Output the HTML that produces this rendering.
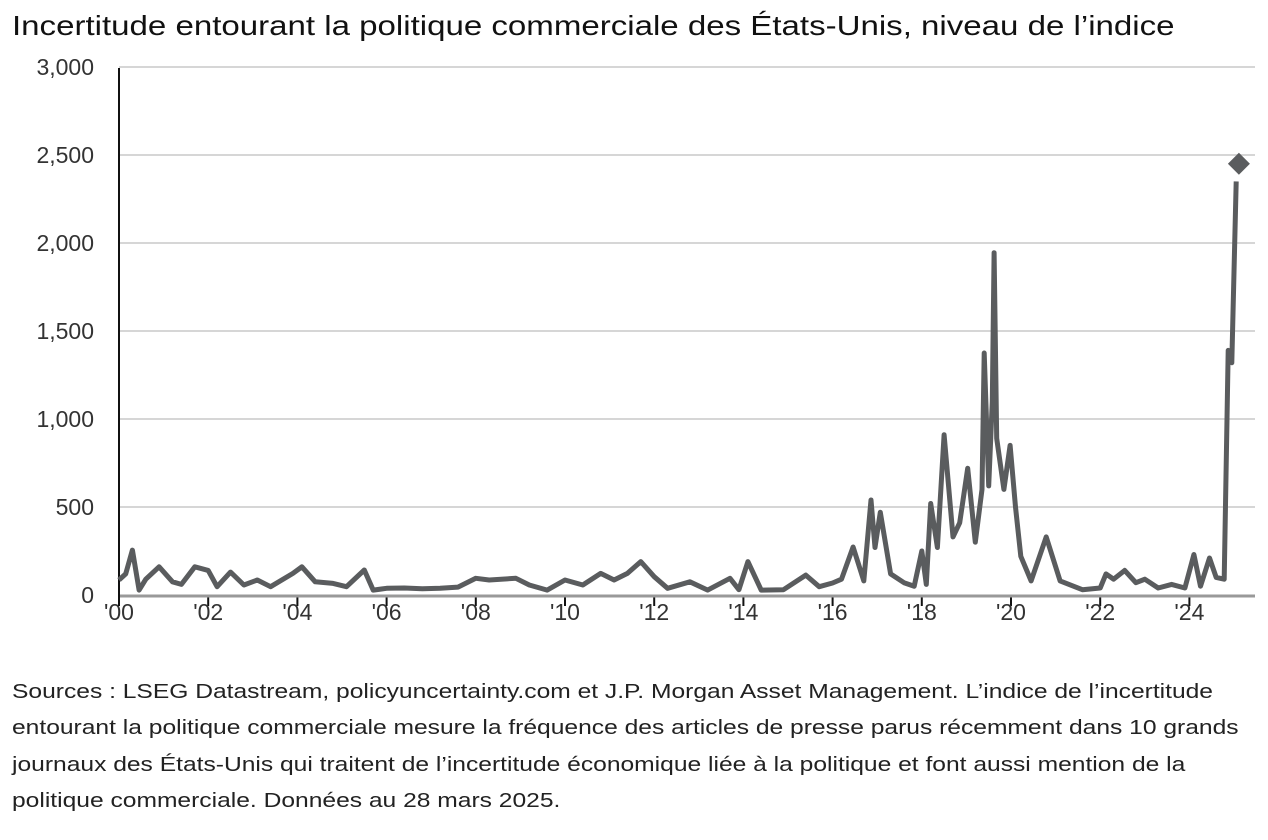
<!DOCTYPE html>
<html><head><meta charset="utf-8"><style>
body{margin:0;width:1268px;height:840px;background:#fff;font-family:"Liberation Sans",sans-serif;overflow:hidden}
#title{position:absolute;left:12px;top:10px;font-size:28px;color:#111;white-space:nowrap;transform:scaleX(1.18);transform-origin:0 0}
#note{position:absolute;left:12px;top:674px;font-size:20.5px;line-height:36.4px;color:#222;white-space:nowrap;transform:scaleX(1.2);transform-origin:0 0}
svg{position:absolute;left:0;top:0}
</style></head><body>
<div id="title">Incertitude entourant la politique commerciale des États-Unis, niveau de l’indice</div>
<svg id="chart" width="1268" height="660"></svg>
<div id="note">Sources : LSEG Datastream, policyuncertainty.com et J.P. Morgan Asset Management. L’indice de l’incertitude<br>entourant la politique commerciale mesure la fréquence des articles de presse parus récemment dans 10 grands<br>journaux des États-Unis qui traitent de l’incertitude économique liée à la politique et font aussi mention de la<br>politique commerciale. Données au 28 mars 2025.</div>
<script>
const years=[0,0.15,0.3,0.45,0.6,0.9,1.2,1.4,1.7,2.0,2.2,2.5,2.8,3.1,3.4,3.9,4.1,4.4,4.8,5.1,5.5,5.7,6.0,6.4,6.8,7.2,7.6,8.0,8.3,8.9,9.2,9.6,10.0,10.4,10.8,11.1,11.4,11.7,12.0,12.3,12.8,13.2,13.7,13.9,14.1,14.4,14.9,15.4,15.7,16.0,16.2,16.46,16.7,16.86,16.95,17.07,17.3,17.6,17.83,18.0,18.1,18.2,18.35,18.5,18.7,18.85,19.03,19.2,19.35,19.4,19.5,19.58,19.62,19.68,19.84,19.98,20.1,20.22,20.45,20.79,21.1,21.6,22.0,22.13,22.3,22.55,22.8,23.0,23.3,23.6,23.9,24.1,24.25,24.45,24.6,24.78,24.87,24.95,25.05];
const values=[85,120,255,28,90,160,75,60,160,140,47,130,57,85,47,123,160,75,66,47,142,28,38,40,35,38,45,95,85,95,57,28,85,57,123,85,123,190,104,38,75,28,95,30,190,28,30,113,47,68,90,273,80,540,270,470,120,70,50,250,60,520,270,910,330,410,720,300,600,1375,620,1100,1945,890,600,850,500,220,80,330,80,30,40,120,90,140,70,90,40,60,40,230,50,210,100,90,1390,1320,2350];
const yTicks=[0,500,1000,1500,2000,2500,3000];
const yLabels=["0","500","1,000","1,500","2,000","2,500","3,000"];
const xTicks=[0,2,4,6,8,10,12,14,16,18,20,22,24];
const xLabels=["'00","'02","'04","'06","'08","'10","'12","'14","'16","'18","'20","'22","'24"];
const lastYear=[25.11];const lastValue=[2450];
const NS="http://www.w3.org/2000/svg",svg=document.getElementById('chart');
const X=v=>119+v*44.6, Y=v=>595-v*0.176;
function mk(t,a,p){const e=document.createElementNS(NS,t);for(const k in a)e.setAttribute(k,a[k]);(p||svg).appendChild(e);return e;}
yTicks.forEach((t,i)=>{
 if(t>0){const g=mk('line',{x1:119,x2:1255,y1:Y(t),y2:Y(t),stroke:'#d6d6d6','stroke-width':2});
 
 }
 const l=mk('text',{x:94,y:Y(t)+8,'text-anchor':'end','font-size':23,fill:'#333','font-family':'Liberation Sans, sans-serif'});
 l.textContent=yLabels[i];
 
 
});
xTicks.forEach((t,i)=>{
 const tk=mk('line',{x1:X(t),x2:X(t),y1:595,y2:606,stroke:'#111','stroke-width':2});
 
 
 const l=mk('text',{x:X(t),y:620,'text-anchor':'middle','font-size':23,fill:'#333','font-family':'Liberation Sans, sans-serif'});
 l.textContent=xLabels[i];
 
 
});
const xa=mk('line',{x1:119,x2:1255,y1:596,y2:596,stroke:'#999','stroke-width':3});


const ya=mk('line',{x1:119,x2:119,y1:68,y2:606,stroke:'#111','stroke-width':2});


const pts=years.map((y,i)=>X(y).toFixed(1)+','+Y(values[i]).toFixed(1)).join(' ');
const pl=mk('polyline',{points:pts,fill:'none',stroke:'#5a5c5e','stroke-width':5,'stroke-linejoin':'round'});


const cx=X(lastYear[0]),cy=Y(lastValue[0]);
const d=mk('polygon',{points:`${cx},${cy-11} ${cx+11},${cy} ${cx},${cy+11} ${cx-11},${cy}`,fill:'#5a5c5e'});


</script>
</body></html>
